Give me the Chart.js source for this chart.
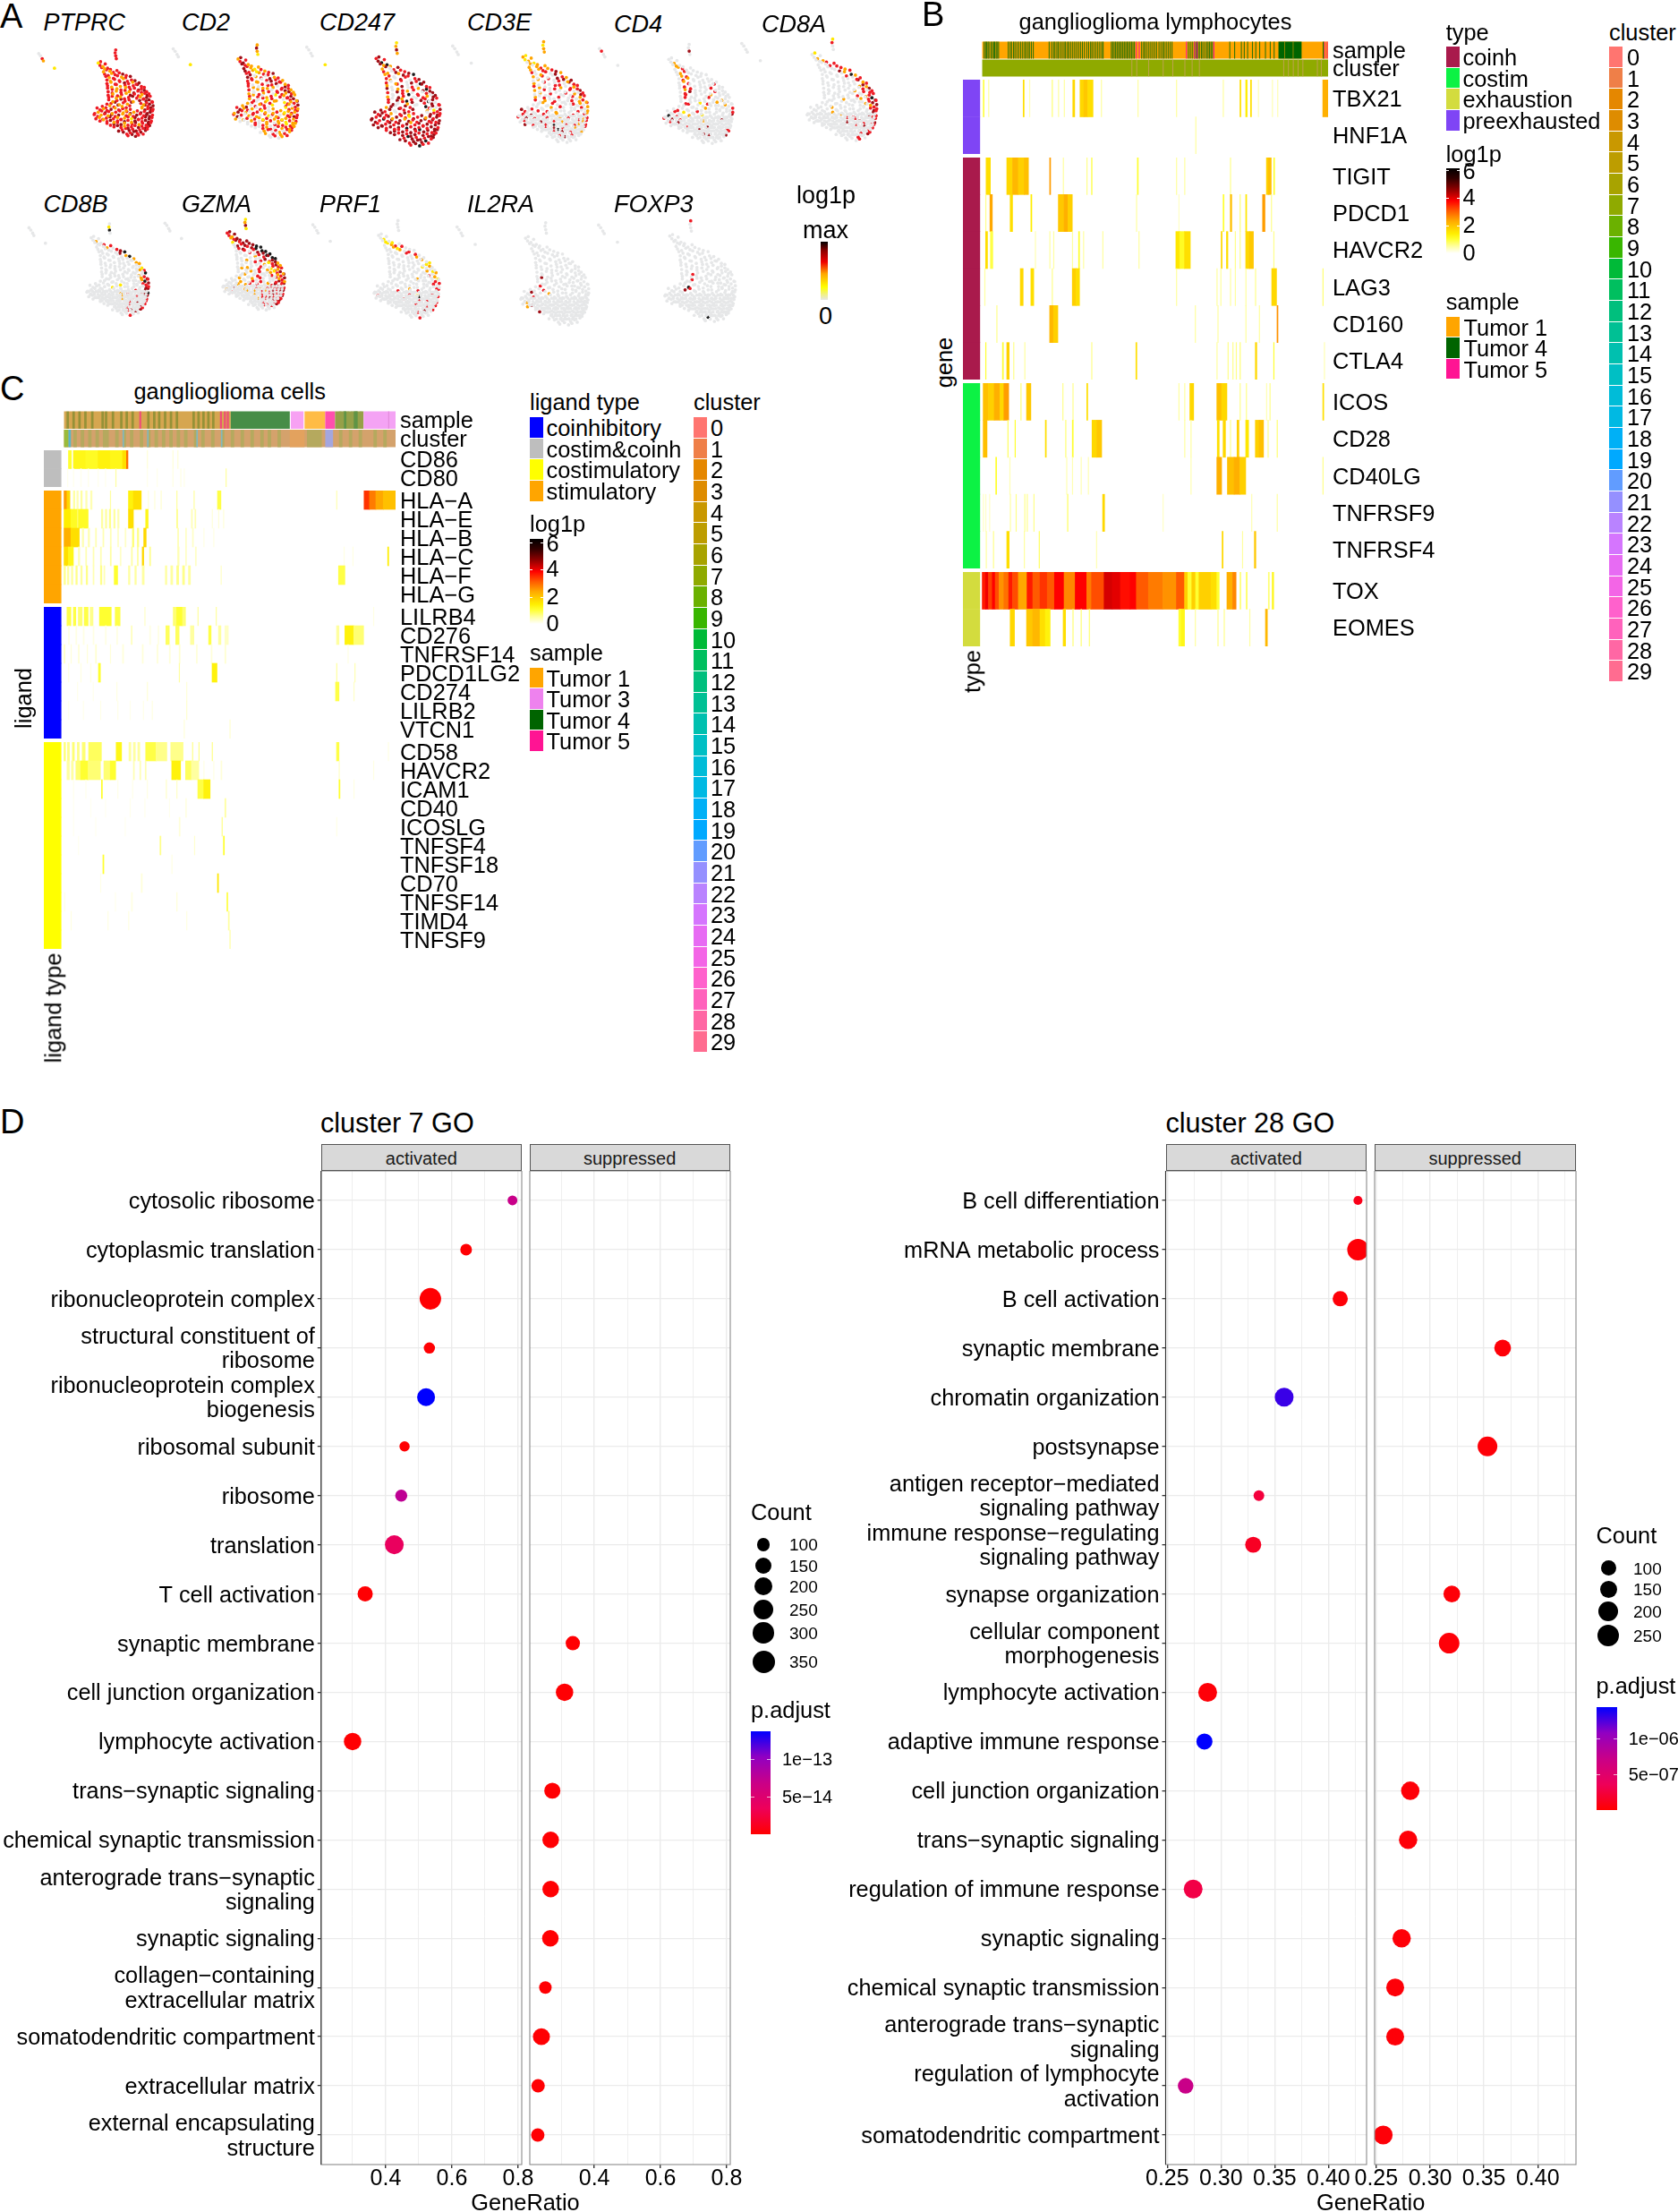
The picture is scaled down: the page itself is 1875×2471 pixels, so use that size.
<!DOCTYPE html>
<html><head><meta charset="utf-8">
<script src="https://cdn.jsdelivr.net/npm/chart.js@4"></script>
<style>
html,body{margin:0;padding:0;background:#fff}
#page{position:relative;width:1875px;height:2471px;overflow:hidden;font-family:"Liberation Sans",Arial,sans-serif;color:#000}
#page canvas{position:absolute}
.t{position:absolute;white-space:nowrap;line-height:1}
.b{position:absolute}
</style></head><body><div id="page"></div>
<script>
// ---------- PANEL A: shared UMAP cell positions (rows of [v,[u...]]) ----------
const umapSpike=[[37,117],[36,113],[37,109],[38,105]];
const umapStrip=[[-95,112],[-92,109],[-89,105],[-87,102],[-68,92]];
const umapRows=[
[100,[7,11]],[96,[10,15,19]],[92,[13,18,23,28]],[88,[16,21,27,33,39]],[84,[18,24,30,36,43,49,55]],
[80,[20,26,33,40,47,54,62]],[76,[22,28,35,43,50,57,64,70]],[72,[22,29,36,44,52,59,66,72,77]],
[68,[23,30,38,45,53,60,67,74,81]],[64,[23,31,39,46,54,62,69,76,81,86]],[60,[24,31,38,46,53,60,68,75,81,86,90]],
[56,[24,32,40,47,55,62,69,76,82,87,91,94]],[52,[25,31,38,45,52,59,66,73,79,85,90,96]],
[48,[25,32,39,46,53,60,67,78,84,89,94,99]],[44,[22,29,36,43,50,57,64,80,85,90,95,100]],
[40,[14,20,27,34,41,48,55,61,82,87,92,97,101]],[36,[5,10,16,22,29,36,42,49,55,62,82,87,92,97,101]],
[32,[1,7,13,19,25,31,37,44,50,56,62,68,74,80,86,91,96,100]],[28,[0,6,12,18,24,30,36,42,49,55,61,67,73,79,85,90,95,100]],
[24,[3,9,15,21,27,33,40,46,52,58,64,70,76,82,88,94,99]],[20,[10,16,22,28,34,40,46,52,58,64,70,76,82,88,93,98]],
[16,[22,28,34,40,46,52,58,65,71,77,83,89,93,97]],[12,[34,40,46,52,58,64,70,76,82,88,92,95]],
[8,[42,48,54,60,66,72,78,84,88,91]],[4,[50,56,62,68,74,80,84]],[0,[58,65,71,76]]];
// small vertical displacement of each cell within its row, read as 0..4
const umapRowShift=["13","204","3120","14203","2031420","3104213","20314021","130421302","204130241","3120413024","20314203142","130241302413","241302413024","302413024130","124031420314","2031420314203","413024130241302","024130241302413024","302413024130241302","13024130241302413","2413024130241302","30241302413024","241302413024","0241302413","3024130","2413"];
// extra unexpressed cells that fill the lower part of the map
const umapFill=[[3,30],[9,30],[15,30],[21,30],[27,30],[33,30],[39,30],[46,30],[52,30],[58,30],[64,30],[70,30],[76,30],[82,30],[88,30],[93,30],[98,30],[6,26],[12,26],[18,26],[24,26],[30,26],[37,26],[43,26],[49,26],[55,26],[61,26],[67,26],[73,26],[79,26],[85,26],[91,26],[97,26],[13,22],[19,22],[25,22],[31,22],[37,22],[43,22],[49,22],[55,22],[61,22],[67,22],[73,22],[79,22],[85,22],[91,22],[96,22],[25,18],[31,18],[37,18],[43,18],[49,18],[55,18],[61,18],[68,18],[74,18],[80,18],[86,18],[91,18],[95,18],[37,14],[43,14],[49,14],[55,14],[61,14],[67,14],[73,14],[79,14],[85,14],[90,14],[45,10],[51,10],[57,10],[63,10],[69,10],[75,10],[81,10],[86,10],[53,6],[59,6],[65,6],[71,6],[77,6],[82,6],[72,48],[69,44],[76,44],[66,40],[77,40],[67,36],[77,36]];
// expression level per cell (0 none .. 5 max); first two entries are spike and strip
const PTPRC=["3333","00321","13","323","3233","23233","3323343","3233234","32332334","323343234","323233343","3323233433","33233243343","323324332343","332233432343","323433243443","334232432343","3323423324344","332342332324343","323432332342343443","332324342323433443","32334323231433443","3234233432433443","33434233423343","343243343434","4334343343","4334343","3443"];
const CD2=["2421","00001","24","343","4322","43212","4321323","3402334","43230423","332034332","302303432","3202320343","30232033432","203230332432","323023132342","230313203342","230323213234","2403230132034","342320330213232","243203312023212323","343023203132023243","20230321302312323","0002303230231323","00303203231322","003230323232","0230320323","2030233","0302"];
const CD247=["1242","00001","34","453","4252","24034","3204334","2302435","32043034","302304354","203403043","4023032453","30432030344","204350332044","304253043043","340324035403","240343053403","4340433420134","434320342304343","434342433143424343","443534342433443434","43434343423434344","4434343534343443","34434343544344","434344343443","4354343434","4344453","3453"];
const CD3E=["2122","00000","21","122","0212","20232","2023234","3023042","20300432","020303424","203003043","3200320323","20303003034","020300302043","203003003023","302030030232","002030030203","0300020300302","430030302003002","030400300200030032","304030030020300023","03000400302000323","4030030500303203","00030453002003","000304030020","0003003000","0004000","0000"];
const CD4=["0040","03000","00","020","0200","02300","0230000","0230000","03200000","023000000","030000030","0230003000","03400003000","030000200000","030000300200","030010020000","003000300200","0300000200003","003010030000003","050300200100000004","304030000000004000","03040000020000000","0000300004000000","00000400000030","000040000003","0000400004","0000000","0000"];
const CD8A=["1300","00000","01","020","0023","00033","0000332","0000423","00000352","000000033","000000042","0000000243","00000000324","000000203033","000000030233","000020020354","000000002343","0000000000234","000002000000343","000000200000000043","000000002003000433","00000000030340003","0000000040003034","00000000304003","000000000303","0000003043","0000300","0003"];
const CD8B=["0150","00000","00","020","0003","00023","0000034","0000045","00000025","000000002","000000002","0000000002","00000000001","000000000203","000000000205","000000000234","000000000253","0000001000334","000000100000043","000000000000030044","000000000203000345","00000000020003004","0000000020040003","00000000304003","000000300403","0000340043","0003040","0030"];
const GZMA=["1241","00000","34","324","2344","14344","0434445","0343455","00303455","000303455","000020345","0020034345","00003021342","002003003432","020003021323","000203021342","002003030234","0020020303234","000020030303432","000020230300234334","020400200320343443","00300020203234344","0000000203034343","00000023343434","000000304343","0000330343","0003030","0000"];
const PRF1=["0000","00000","00","010","0101","01230","0021300","0002030","00003030","000000200","000000020","0000000011","00000001020","000000002010","000000000302","000000200021","000000000030","0000000000303","000000002000030","000000300003000003","030000000301000300","00000003000500003","0000000000303000","00000003000003","000000003003","0000004003","0003000","0030"];
const IL2RA=["0000","00000","","","","","","","","","","","","","040","","030","0003","0040002","0003","","02","24","04","","","",""];
const FOXP3=["3000","00000","","","","","","","","","","","","0030","","003","","0005","000043","","","","","","","","00500",""];
const umapLevelColors=["#E6E7E8","#FFE800","#FFA500","#EE1C25","#A01018","#1A1A1A"];

// ---------- PANEL B: stripes [firstCell,lastCell,log1p] ----------
const TBX21=[[127,129,.9],[138,139,.5],[210,212,1.6],[223,224,.4],[270,271,.7],[283,284,.5],[295,296,.5],[313,317,1.7],[328,336,1.7],[336,344,1.9],[344,355,1.6],[372,373,.5],[448,449,.5],[528,529,.5],[625,626,.5],[660,662,1.6],[672,675,1.4],[682,684,1.6],[698,699,.4],[727,728,.4],[738,739,.4],[832,843,2.2]];
const HNF1A=[[568,569,.5]];
const TIGIT=[[133,142,1.6],[176,188,1.7],[188,200,2.1],[200,212,1.8],[212,221,2],[265,267,2.4],[293,294,.5],[342,343,.6],[352,353,1],[447,449,1],[528,529,.5],[545,546,.5],[640,641,.6],[715,719,1.8],[719,725,2],[730,732,1]];
const PDCD1=[[132,133,.6],[141,146,2.3],[183,188,1.6],[226,228,1.4],[283,295,1.9],[295,303,2.2],[303,312,1.8],[445,446,.5],[533,534,.3],[625,627,1],[640,643,2],[660,661,.7],[672,674,1.5],[707,712,2.4],[725,726,.6]];
const HAVCR2=[[132,136,1.6],[142,147,.9],[235,236,.4],[265,266,.5],[273,274,.5],[312,313,.5],[325,327,1],[335,336,.5],[375,376,.5],[450,451,.5],[527,535,1.5],[535,545,1.1],[545,557,1.6],[621,623,1.7],[632,635,1.6],[650,651,.6],[660,661,.6],[672,680,1.7],[680,688,1.9],[730,731,.6]];
const LAG3=[[130,131,.5],[204,210,1.7],[226,232,1.6],[270,271,.6],[312,320,1.8],[320,327,1.6],[528,529,.5],[612,613,.5],[620,621,.5],[640,641,.5],[650,651,.5],[672,673,.5],[692,693,.6],[726,736,1.7],[832,833,.7]];
const CD160=[[155,156,.6],[265,273,2.1],[273,282,1.8],[567,568,.5],[614,615,.5],[672,673,.5],[700,701,.5],[737,739,2.5]];
const CTLA4=[[132,133,1],[167,169,1],[176,181,1.8],[190,191,.6],[213,214,.5],[352,353,.6],[444,446,1.6],[612,613,.5],[635,636,.6],[645,646,.6],[652,653,.6],[660,661,.7],[692,695,1.7],[730,731,1],[835,836,.4]];
const ICOS=[[127,138,2],[138,150,1.8],[150,162,2.2],[162,170,1.7],[170,180,2.4],[205,206,.7],[217,226,1.9],[292,293,.6],[313,314,.6],[342,344,1.6],[533,534,.5],[545,546,.5],[556,564,1.7],[612,622,2],[622,633,1.7],[660,661,.6],[673,674,.6],[715,716,.4],[722,723,.6],[832,834,1.6]];
const CD28=[[127,135,2],[178,179,.8],[193,194,1],[256,258,1.6],[298,299,.7],[312,314,1],[353,363,1.7],[363,373,1.9],[545,546,.5],[558,559,.5],[613,617,1.6],[625,630,1.7],[640,641,.6],[654,658,1.8],[672,678,1.5],[692,700,1.8],[700,709,2],[718,719,.6],[737,738,.7]];
const CD40LG=[[153,155,1],[182,183,.4],[300,301,.4],[312,313,.4],[330,331,.4],[345,346,.4],[558,559,.4],[612,622,2.2],[634,648,2],[648,660,2.2],[660,672,1.8],[832,833,.6]];
const TNFRSF9=[[127,128,.3],[132,133,.3],[140,141,.3],[183,184,.5],[195,196,.6],[213,214,.6],[218,219,.6],[232,233,.6],[302,303,.8],[375,379,1.7],[500,501,.3],[684,685,.4],[737,738,.5]];
const TNFRSF4=[[133,134,.5],[148,149,.6],[176,181,1.6],[212,213,.5],[243,244,.8],[362,363,.4],[623,625,1.7],[665,666,.5],[690,693,1.9]];
const TOX=[[125,132,3.5],[132,138,3.8],[138,146,3.2],[146,152,3.7],[152,160,3.1],[160,170,2.5],[170,180,2.8],[180,188,3.5],[188,200,3.1],[200,218,2.3],[218,230,3.5],[230,245,3],[245,260,3.3],[260,275,3],[275,295,3.7],[295,318,2.6],[318,342,3.7],[342,352,2.7],[352,378,3.1],[378,395,4],[395,412,3.9],[412,432,3.6],[432,445,3.7],[445,470,3],[470,500,2.7],[500,528,2.5],[528,545,3],[545,552,1.8],[552,560,1],[560,568,1.8],[568,575,1],[575,600,1.8],[600,612,1.6],[612,617,1],[633,645,2.2],[645,652,2.6],[660,662,.7],[673,675,.8],[719,721,.7],[727,730,1.2]];
const EOMES=[[183,192,1.7],[217,230,1.9],[230,245,2.1],[245,256,1.6],[256,266,1.3],[293,298,1.6],[313,314,.7],[330,331,.7],[347,348,.7],[533,538,1],[538,545,1.2],[567,568,.5],[614,615,.6],[627,628,.6],[680,681,.5],[713,717,2.1]];
const sampleB_green=[128,131,133,136,138,142,145,148,150,153,155,158,178,182,185,189,192,196,200,204,208,212,215,219,222,226,230,263,268,272,275,279,282,286,290,294,297,301,304,308,312,316,320,324,328,332,336,341,345,349,352,356,360,364,368,372,375,392,395,398,401,404,407,410,413,416,419,422,425,428,431,434,437,440,455,459,462,466,470,474,478,482,486,491,495,499,502,506,510,514,518,552,556,560,564,568,572,575,579,582,586,590,593,596,599,602,638,648,662,668,675,685,692,700,712,722,730];
const sampleB_pink=[444,450,548,565,570,605,835,840];
const clusterB_tan=[435,445,470,500,520,545,560,575,750,760,770,780,790,820,828];

// ---------- PANEL C: stripes [firstCell,lastCell,log1p] ----------
const CD86=[[140,146,1],[150,175,1.2],[175,200,1.1],[200,225,1.3],[225,250,1.2],[250,258,1.6],[258,261,2.8],[300,301,.2],[352,353,.2],[362,363,.2]];
const CD80=[[138,139,.1],[150,151,.1],[165,166,.1],[180,181,.12],[200,201,.1],[215,216,.1],[236,237,.5],[300,301,.1],[320,321,.1],[352,353,.15],[368,369,.15],[375,376,.12],[460,461,.5]];
const HLA_A=[[131,137,2.4],[137,143,1.7],[150,153,.5],[157,160,.4],[165,168,.5],[175,178,.4],[185,188,.4],[225,226,.5],[262,272,1.3],[272,288,1.6],[302,303,.2],[315,316,.2],[328,329,.25],[360,361,.5],[395,396,.5],[443,450,.9],[685,686,.4],[741,752,3.3],[752,765,2.7],[765,780,2.3],[780,805,2]];
const HLA_E=[[131,145,1.4],[145,158,1.1],[160,180,1.1],[207,210,.5],[215,218,.5],[223,226,.6],[232,235,.5],[240,243,.4],[262,272,1.6],[297,302,1.2],[360,362,.6],[390,392,.4],[397,399,.4],[432,433,.2],[445,446,.2],[455,456,.2]];
const HLA_B=[[131,145,2.2],[145,162,1.6],[168,171,.4],[180,183,.4],[195,197,.4],[210,212,.4],[225,227,.4],[240,242,.3],[255,257,.3],[270,273,.7],[280,283,.6],[293,298,1.7],[362,364,.4],[378,380,.3],[392,394,.3],[415,416,.15],[435,436,.15]];
const HLA_C=[[131,140,1.6],[140,150,1.2],[160,163,.4],[175,177,.4],[190,192,.4],[205,207,.4],[225,227,.5],[245,247,.3],[268,270,.5],[280,282,.5],[290,293,1.7],[305,307,.6],[362,365,.4],[378,380,.3],[398,400,.3],[700,701,.15],[718,719,.15],[789,791,1.4]];
const HLA_F=[[131,134,.6],[138,141,.5],[146,149,.5],[155,158,.6],[165,168,.5],[176,179,.6],[190,192,.4],[205,208,.6],[212,214,.4],[233,240,1],[262,265,.5],[275,278,.5],[290,294,.5],[337,340,.5],[348,352,.5],[360,364,.6],[372,376,.6],[384,388,.5],[450,451,.3],[689,702,.9]];
const HLA_G=[];
const LILRB4=[[137,145,.9],[150,155,.9],[160,168,.7],[172,180,.9],[184,190,.6],[203,227,1],[235,245,.9],[295,296,.3],[353,360,.7],[360,372,1],[372,378,.7],[403,404,.5],[440,441,.5],[760,761,.15]];
const CD276=[[140,142,.15],[155,157,.15],[170,172,.15],[190,192,.15],[215,217,.15],[238,240,.15],[268,269,.5],[305,307,.15],[322,324,.15],[338,345,.8],[358,365,.8],[388,395,.5],[425,430,.9],[445,450,.5],[458,465,.3],[685,690,.5],[702,720,1.3],[720,740,.7]];
const TNFRSF14=[[131,133,.3],[145,146,.2],[160,162,.2],[178,179,.2],[195,197,.25],[225,226,.2],[250,252,.2],[290,292,.2],[320,322,.2],[345,347,.2],[365,367,.25],[400,402,.2],[430,432,.2],[458,460,.25],[708,709,.15]];
const PDCD1LG2=[[140,141,.15],[165,166,.15],[185,186,.15],[201,205,1],[365,366,.5],[432,442,1.3],[685,686,.5],[722,723,.4]];
const CD274=[[158,159,.1],[190,191,.1],[238,239,.15],[300,301,.2],[380,381,.2],[683,690,.9],[720,721,.3]];
const LILRB2=[[140,141,.1],[170,171,.1],[205,206,.12],[240,241,.12],[265,266,.1],[292,293,.12],[310,311,.15],[380,381,.25]];
const VTCN1=[[375,376,.2],[468,469,.25]];
const CD58=[[131,134,.7],[138,142,.6],[148,152,.7],[158,162,.6],[168,174,.7],[181,207,.8],[237,248,1.2],[263,267,.5],[272,276,.5],[281,285,.5],[297,318,.9],[318,340,.6],[348,373,.6],[392,393,.6],[405,406,.6],[432,433,.6],[685,690,.9],[790,791,.15]];
const HAVCR2_C=[[137,142,.5],[146,150,.5],[155,165,.7],[165,180,1],[180,205,.7],[212,225,.7],[225,236,1],[272,274,.4],[285,287,.4],[296,298,.4],[350,368,1.3],[378,390,.8],[390,405,.5],[415,416,.15],[435,436,.15],[450,452,.2],[690,691,.3],[760,761,.15]];
const ICAM1=[[150,151,.1],[175,176,.1],[207,209,1],[240,241,.12],[270,271,.12],[300,301,.15],[338,340,.2],[360,361,.3],[403,415,.9],[415,428,1.3],[690,692,1],[720,721,.15]];
const CD40=[[150,151,.08],[185,186,.08],[215,216,.08],[265,266,.1],[295,296,.1],[345,346,.1],[378,380,.15],[458,460,.5]];
const ICOSLG=[[150,151,.08],[195,196,.08],[255,256,.08],[365,367,.2],[452,453,.6],[685,686,.12]];
const TNFSF4=[[160,161,.08],[326,328,.6],[396,397,.25],[455,457,1]];
const TNFSF18=[[210,212,1],[350,351,.15]];
const CD70=[[205,206,.12],[288,290,.2],[443,445,1.5]];
const TNFSF14=[[132,133,.12],[235,236,.1],[268,270,.15],[360,361,.2],[462,464,.9]];
const TIMD4=[[145,146,.15],[220,221,.15],[262,263,.15],[380,381,.15],[465,467,.5]];
const TNFSF9=[[468,469,.5]];
const sampleC_green=[136,148,160,172,186,207,214,228,245,256,268,300,312,322,334,346,358,392,402,412,422,432,690,698,706,714,722,732];
const sampleC_pink=[284,448,456,462];
const clusterC_olive=[150,165,180,195,210,235,250,265,285,300,315,330,345,360,375,395,410,430,450,470,490,510,530,545,565,625,690,710,730,760,780];
const clusterC_blue=[250,300,400,450];

// ---------- colours for legends ----------
const clusterColors=["#FF7570","#EF7F48","#E58700","#DE8C00","#C99800","#BD9D00","#A8A300","#8FAA00","#6BB100","#39B600","#00BA38","#00BF5F","#00BF7D","#00C094","#00C0AF","#00BFC4","#00BCD8","#00B9E3","#00B0F6","#00A9FF","#619CFF","#9590FF","#B983FF","#D575FE","#E76BF3","#F365E6","#FF61CC","#FF62BC","#FF67A4","#FF6C90"];
const typeColors=["#A91A4C","#0CF244","#D3DC3E","#7F45F5"];
const typeNames=["coinh","costim","exhaustion","preexhausted"];
const ligandNames=["coinhibitory","costim&coinh","costimulatory","stimulatory"];
const ligandColors=["#0000FF","#BEBEBE","#FFFF00","#FFA500"];
const heatStops=[[0,"#FFFFFF"],[.5,"#FFFFA0"],[1,"#FFFF30"],[1.4,"#FFEE00"],[1.8,"#FFD000"],[2.3,"#FFA800"],[3,"#FF5A00"],[3.7,"#FF0000"],[4.5,"#900000"],[5.3,"#300000"],[6,"#000000"]];
const padjStops=[[0,"#FF0000"],[.25,"#EE0059"],[.5,"#C90088"],[.75,"#9100C2"],[1,"#0000FF"]];

// ---------- PANEL D data ----------
const c7Terms=["cytosolic ribosome","cytoplasmic translation","ribonucleoprotein complex",["structural constituent of","ribosome"],["ribonucleoprotein complex","biogenesis"],"ribosomal subunit","ribosome","translation","T cell activation","synaptic membrane","cell junction organization","lymphocyte activation","trans−synaptic signaling","chemical synaptic transmission",["anterograde trans−synaptic","signaling"],"synaptic signaling",["collagen−containing","extracellular matrix"],"somatodendritic compartment","extracellular matrix",["external encapsulating","structure"]];
const c7Ratio=[.783,.643,.535,.532,.522,.457,.447,.426,.338,.335,.310,.300,.273,.268,.268,.267,.252,.240,.230,.229];
const c7Count=[50,77,320,70,212,56,84,237,146,126,200,200,166,177,177,177,92,188,108,108];
const c7Padj=[6.9e-14,1e-15,1e-15,1e-15,1.37e-13,1e-15,7.5e-14,3.8e-14,1e-15,1e-15,1e-15,1e-15,1e-15,1e-15,1e-15,1e-15,1e-15,1e-15,1e-15,1e-15];
const c7Side=[0,0,0,0,0,0,0,0,0,1,1,0,1,1,1,1,1,1,1,1];
const c28Terms=["B cell differentiation","mRNA metabolic process","B cell activation","synaptic membrane","chromatin organization","postsynapse",["antigen receptor−mediated","signaling pathway"],["immune response−regulating","signaling pathway"],"synapse organization",["cellular component","morphogenesis"],"lymphocyte activation","adaptive immune response","cell junction organization","trans−synaptic signaling","regulation of immune response","synaptic signaling","chemical synaptic transmission",["anterograde trans−synaptic","signaling"],["regulation of lymphocyte","activation"],"somatodendritic compartment"];
const c28Ratio=[.4275,.4275,.411,.3674,.3588,.3533,.3353,.330,.3202,.3177,.2876,.2846,.2816,.2796,.2741,.2736,.2676,.2676,.2671,.2565];
const c28Count=[18,250,100,130,178,201,34,117,130,225,178,117,167,167,178,167,156,156,108,178];
const c28Padj=[1e-7,3e-8,3e-8,3e-8,1.28e-6,3e-8,2.4e-7,1.4e-7,3e-8,3e-8,3e-8,1.42e-6,3e-8,3e-8,2.8e-7,3e-8,3e-8,3e-8,7.1e-7,3e-8];
const c28Side=[0,0,0,1,0,1,0,0,1,1,0,0,1,1,0,1,1,1,0,1];
const c7Ticks=[.3,.4,.5,.6,.7,.8];
const c28Ticks=[.25,.275,.3,.325,.35,.375,.4,.425];

// ---------- helpers ----------
const page=document.getElementById('page');
const FS=25.4;
Chart.defaults.font.family='"Liberation Sans",Arial,sans-serif';
Chart.defaults.color='#000';
function txt(x,y,s,o={}){const d=document.createElement('div');d.className='t';d.textContent=s;
 const size=o.size||FS;let tr=o.anchor==='mid'?'translate(-50%,-50%)':o.anchor==='end'?'translate(-100%,-50%)':'translateY(-50%)';
 if(o.rot)tr='translate(-50%,-50%) rotate(-90deg)';
 d.style.cssText=`left:${x}px;top:${y}px;font-size:${size}px;transform:${tr};color:${o.color||'#000'};${o.italic?'font-style:italic;':''}`;page.appendChild(d);}
function box(x,y,w,h,css){const d=document.createElement('div');d.className='b';d.style.cssText=`left:${x}px;top:${y}px;width:${w}px;height:${h}px;${css}`;page.appendChild(d);}
function hex(c){return [1,3,5].map(i=>parseInt(c.substr(i,2),16));}
function interp(stops,v){if(v<=stops[0][0])return stops[0][1];for(let i=1;i<stops.length;i++){if(v<=stops[i][0]){const f=(v-stops[i-1][0])/(stops[i][0]-stops[i-1][0]);const a=hex(stops[i-1][1]),b=hex(stops[i][1]);return `rgb(${a.map((q,k)=>Math.round(q+(b[k]-q)*f)).join(',')})`;}}return stops[stops.length-1][1];}
function canvas(x,y,w,h){const c=document.createElement('canvas');w=Math.round(w);h=Math.round(h);c.width=w;c.height=h;c.style.left=x+'px';c.style.top=y+'px';c.style.width=w+'px';c.style.height=h+'px';page.appendChild(c);return c;}
const base={responsive:false,animation:false,devicePixelRatio:1,events:[],plugins:{legend:{display:false},tooltip:{enabled:false}}};

// ---------- panel A ----------
function umapPoints(levels,fill){const out=[[],[],[],[],[],[]];
 if(fill)umapFill.forEach(p=>out[0].push({x:p[0],y:p[1]}));
 umapSpike.forEach((p,i)=>out[+(levels[0][i]||0)].push({x:p[0],y:p[1]}));
 umapStrip.forEach((p,i)=>out[+(levels[1][i]||0)].push({x:p[0],y:p[1]}));
 umapRows.forEach((r,k)=>r[1].forEach((u,i)=>out[+(levels[k+2][i]||0)].push({x:u,y:r[0]+((+umapRowShift[k][i])-2)*.9})));
 return out;}
function umap(name,levels,L,R,T,B,tx,ty,fill){
 const w=R-L,h=B-T,cx=Math.round(L-w),cw=Math.round(w*2.04),cy=Math.round(B-h*1.24),ch=Math.round(h*1.27);
 const pts=umapPoints(levels,fill);
 new Chart(canvas(cx,cy,cw,ch),{type:'scatter',data:{datasets:pts.map((d,i)=>({data:d,backgroundColor:umapLevelColors[i],pointRadius:1.85,borderWidth:0}))},
  options:{...base,layout:{padding:0,autoPadding:false},scales:{x:{type:'linear',display:false,min:-100,max:104},y:{type:'linear',display:false,min:-3,max:124}}}});
 txt(tx,ty,name,{size:27,italic:true});
}
umap('PTPRC',PTPRC,105,170,70,152,48.5,25,false);
umap('CD2',CD2,261,332,65,153,203,25,false);
umap('CD247',CD247,415,491,65,163,357,25,false);
umap('CD3E',CD3E,579,656,63,158,522,25,true);
umap('CD4',CD4,742,818,66,160,686,27,true);
umap('CD8A',CD8A,902,979,60,156,851,27,true);
umap('CD8B',CD8B,97,165,265,352,48.5,228,true);
umap('GZMA',GZMA,249,317,260,346,203,228,true);
umap('PRF1',PRF1,418,490,262,354,357,228,true);
umap('IL2RA',IL2RA,582,657,265,362,522,228,true);
umap('FOXP3',FOXP3,743,821,263,358,686,228,true);
txt(890,218,'log1p',{size:27});txt(897,257,'max',{size:27});txt(915,353,'0',{size:27});
box(917,270,8,65,'background:linear-gradient(to top,#E6E6E6 0%,#FFFF00 22%,#FFA500 45%,#F00000 65%,#8B0000 85%,#000 100%)');

// ---------- heat maps ----------
function heat(labels,rows,sideColor,min,max,left,right,labelW,top,bottom,pct){
 const data=[];
 labels.forEach((lab,i)=>{ if(sideColor)data.push({x:sideColor[0],y:lab,c:sideColor[1]});
   rows[i].forEach(s=>data.push({x:[s[0],s[1]],y:lab,c:s[2]})); });
 new Chart(canvas(left,top-5,right-left+labelW,bottom-top+10),{type:'bar',
  data:{labels,datasets:[{data,backgroundColor:c=>c.raw?c.raw.c:'#fff',borderWidth:0,barPercentage:pct||1,categoryPercentage:1}]},
  options:{...base,indexAxis:'y',layout:{padding:{top:5,bottom:5,left:0,right:0},autoPadding:false},scales:{
   x:{type:'linear',display:false,min,max},
   y:{type:'category',position:'right',grid:{display:false,drawTicks:false},border:{display:false},
      ticks:{autoSkip:false,padding:5,labelOffset:2,font:{size:FS,lineHeight:1},color:'#000'},
      afterFit(s){s.width=labelW;s.paddingTop=0;s.paddingBottom=0;}}}}});
}
function hm(a){return a.map(s=>[s[0],s[1],interp(heatStops,s[2])]);}
// B
const bMin=85,bMax=843,bL=1076,bR=1484,bLab=230;
const bSample=[[125,843,'#FFA500'],...sampleB_green.map(c=>[c,c+2,'#2E7408']),...sampleB_pink.map(c=>[c,c+2,'#FF1493']),[740,788,'#006400'],[752,753,'#FFA500'],[770,771,'#FFA500'],[832,834,'#006400']];
const bCluster=[[125,843,'#8FAA00'],...clusterB_tan.map(c=>[c,c+1.5,'#C9A060'])];
heat(['sample','cluster'],[bSample,bCluster],null,bMin,bMax,bL,bR,bLab,46,86,.95);
heat(['TBX21','HNF1A'],[hm(TBX21),hm(HNF1A)],[[85,120],typeColors[3]],bMin,bMax,bL,bR,bLab,89,172);
heat(['TIGIT','PDCD1','HAVCR2','LAG3','CD160','CTLA4'],[TIGIT,PDCD1,HAVCR2,LAG3,CD160,CTLA4].map(hm),[[85,120],typeColors[0]],bMin,bMax,bL,bR,bLab,176,424);
heat(['ICOS','CD28','CD40LG','TNFRSF9','TNFRSF4'],[ICOS,CD28,CD40LG,TNFRSF9,TNFRSF4].map(hm),[[85,120],typeColors[1]],bMin,bMax,bL,bR,bLab,428,635);
heat(['TOX','EOMES'],[TOX,EOMES].map(hm),[[85,120],typeColors[2]],bMin,bMax,bL,bR,bLab,639,722);
// C
const cMin=90,cMax=805,cL=49,cR=442,cLab=150;
const a=(c,o)=>{const h=hex(c);return `rgba(${h[0]},${h[1]},${h[2]},${o})`};
const cSample=[[131,470,'#D6A650'],...sampleC_green.map(c=>[c,c+5,a('#006400',.3)]),...sampleC_pink.map(c=>[c,c+4,a('#FF1493',.6)]),[470,590,'#478D47'],[592,618,'#F7A1F3'],[620,662,'#FFBC45'],[662,682,'#FF4FAE'],[682,740,'#96A048'],[700,705,'#5F9445'],[720,728,'#5F9445'],[740,805,'#F4A3F4'],[790,792,'#E08AD8']];
const cCluster=[[131,805,'#D4A26C'],[131,140,'#9ABB3A'],[140,145,'#58B8C8'],...clusterC_olive.map(c=>[c,c+(c==625?30:c==210?12:7),'#B5A95E']),...clusterC_blue.map(c=>[c,c+3,'#80B8C0']),[590,620,'#E3A25E'],[662,678,'#A4A6DE']];
heat(['sample','cluster'],[cSample,cCluster],null,cMin,cMax,cL,cR,cLab,459,500,.95);
heat(['CD86','CD80'],[CD86,CD80].map(hm),[[90,125],ligandColors[1]],cMin,cMax,cL,cR,cLab,503,544);
heat(['HLA−A','HLA−E','HLA−B','HLA−C','HLA−F','HLA−G'],[HLA_A,HLA_E,HLA_B,HLA_C,HLA_F,HLA_G].map(hm),[[90,125],ligandColors[3]],cMin,cMax,cL,cR,cLab,548,674);
heat(['LILRB4','CD276','TNFRSF14','PDCD1LG2','CD274','LILRB2','VTCN1'],[LILRB4,CD276,TNFRSF14,PDCD1LG2,CD274,LILRB2,VTCN1].map(hm),[[90,125],ligandColors[0]],cMin,cMax,cL,cR,cLab,678,825);
heat(['CD58','HAVCR2','ICAM1','CD40','ICOSLG','TNFSF4','TNFSF18','CD70','TNFSF14','TIMD4','TNFSF9'],[CD58,HAVCR2_C,ICAM1,CD40,ICOSLG,TNFSF4,TNFSF18,CD70,TNFSF14,TIMD4,TNFSF9].map(hm),[[90,125],ligandColors[2]],cMin,cMax,cL,cR,cLab,829,1060);

// legends B + C
function swatches(x,y0,step,w,names,colors,tx,h){names.forEach((n,i)=>{box(x,y0+i*step,w,(h||step)-1,`background:${colors[i]}`);txt(tx,y0+i*step+step/2+1,n);});}
const heatCss='linear-gradient(to top,'+heatStops.map(s=>`${s[1]} ${(s[0]/6*100).toFixed(1)}%`).join(',')+')';
function heatLegend(x,y6,y0,top,tx,w){box(x,top,w,y0-top,'background:'+heatCss);
 [[6,y6],[4,y6+(y0-y6)/3],[2,y6+(y0-y6)*2/3],[0,y0]].forEach(p=>{if(p[0]>0){box(x,p[1],3,1,'background:#fff');box(x+w-3,p[1],3,1,'background:#fff');}txt(tx,p[1]+(p[0]==6?2:0),String(p[0]));});}
const clusterIds=clusterColors.map((_,i)=>String(i));
txt(1291,25,'ganglioglioma lymphocytes',{anchor:'mid'});
txt(1615.7,37,'type');swatches(1615.7,52,23.67,15,typeNames,typeColors,1634.5);
txt(1615.7,173,'log1p');heatLegend(1615.7,190,283,188,1634.5,15);
txt(1615.7,338,'sample');swatches(1615.7,354,23.4,15,['Tumor 1','Tumor 4','Tumor 5'],['#FFA500','#006400','#FF1493'],1635.5);
txt(1798,37,'cluster');swatches(1798,52,23.67,15,clusterIds,clusterColors,1818);
txt(1056,405,'gene',{rot:true});txt(1086.6,750,'type',{rot:true});
txt(256.7,438,'ganglioglioma cells',{anchor:'mid'});
txt(592,450,'ligand type');swatches(592,466,23.67,15,ligandNames,ligandColors,610.5);
txt(592,586,'log1p');heatLegend(592,606,697,602,610.5,15);
txt(592,730,'sample');swatches(592,746,23.4,15,['Tumor 1','Tumor 3','Tumor 4','Tumor 5'],['#FFA500','#EE82EE','#006400','#FF1493'],610.5);
txt(775,450,'cluster');swatches(775,466,23.67,15,clusterIds,clusterColors,794);
txt(27,780,'ligand',{rot:true});txt(60,1126,'ligand type',{rot:true});
txt(0,18,'A',{size:38});txt(1030,16,'B',{size:38});txt(0,434,'C',{size:38});txt(0,1253,'D',{size:38});

// ---------- panel D ----------
const frame={id:'frame',afterDatasetsDraw(ch,_,o){const{left,right,top,bottom}=ch.chartArea,g=ch.ctx;g.save();g.strokeStyle='#8A8A8A';g.lineWidth=1.1;g.strokeRect(left,top,right-left,bottom-top);if(o.dark){g.strokeStyle='#333';g.beginPath();g.moveTo(left,top);g.lineTo(left,bottom);g.stroke();}g.restore();}};
function goPanel(terms,ratio,count,padj,side,which,ticks,fmt,xmin,xmax,left,right,labelW,sizeA,sizeB,pmax,major){
 const pts=[];ratio.forEach((r,i)=>{if(side[i]===which)pts.push({x:r,y:i,r:(sizeA+sizeB*Math.sqrt(count[i]))/2,c:interp(padjStops,padj[i]/pmax)});});
 const top=1308,bottom=2417.5,cx=Math.round(left-labelW);
 new Chart(canvas(cx,top,Math.round(right-cx)+32,bottom-top+42),{type:'bubble',plugins:[frame],
  data:{datasets:[{data:pts,backgroundColor:c=>c.raw?c.raw.c:'#f00',borderWidth:0,clip:0}]},
  options:{...base,layout:{padding:{left:0,top:0,right:32,bottom:0},autoPadding:false},plugins:{...base.plugins,frame:{dark:which===0}},scales:{
   x:{type:'linear',min:xmin,max:xmax,
      afterBuildTicks(s){s.ticks=ticks.map(v=>({value:v}));},
      afterFit(s){s.height=42;s.paddingLeft=0;s.paddingRight=0;},
      border:{display:false},
      grid:{color:'#EBEBEB',lineWidth:c=>major(c.tick.value)?1.4:.8,tickLength:4,tickColor:c=>major(c.tick.value)?'#333':'rgba(0,0,0,0)'},
      ticks:{autoSkip:false,maxRotation:0,minRotation:0,padding:0,font:{size:25,lineHeight:1},color:'#000',callback:v=>major(v)?fmt(v):''}},
   y:{type:'linear',reverse:true,min:-.6,max:19.6,
      afterBuildTicks(s){s.ticks=terms.map((_,i)=>({value:i}));},
      afterFit(s){s.width=labelW;s.paddingTop=0;s.paddingBottom=0;},
      border:{display:false},
      grid:{color:'#EBEBEB',lineWidth:1.3,tickLength:which===0?4:0,tickColor:'#333',drawTicks:which===0},
      ticks:{display:which===0,autoSkip:false,padding:3,labelOffset:2,font:{size:25.3,lineHeight:1.08},color:'#000',callback:v=>terms[v]}}}}});
}
const majC7=v=>Math.abs(v*10-Math.round(v*10))<.01&&Math.round(v*10)%2===0;
const majC28=v=>Math.abs(v*20-Math.round(v*20))<.01;
goPanel(c7Terms,c7Ratio,c7Count,c7Padj,c7Side,0,c7Ticks,v=>v.toFixed(1),.2049,.811,358.8,583,358.8,2.43,1.207,1.37e-13,majC7);
goPanel(c7Terms,c7Ratio,c7Count,c7Padj,c7Side,1,c7Ticks,v=>v.toFixed(1),.2049,.811,591.5,815.8,32,2.43,1.207,1.37e-13,majC7);
goPanel(c28Terms,c28Ratio,c28Count,c28Padj,c28Side,0,c28Ticks,v=>v.toFixed(2),.2485,.4355,1302.5,1527,372.5,5,1.2,1.42e-6,majC28);
goPanel(c28Terms,c28Ratio,c28Count,c28Padj,c28Side,1,c28Ticks,v=>v.toFixed(2),.2485,.4355,1535.8,1760.6,32,5,1.2,1.42e-6,majC28);
function strip(x0,x1,s){box(x0,1278,x1-x0,30,'background:#D9D9D9;border:1px solid #555;box-sizing:border-box;');txt((x0+x1)/2,1294,s,{size:20,anchor:'mid',color:'#1A1A1A'});}
strip(358.8,583,'activated');strip(591.5,815.8,'suppressed');strip(1302.5,1527,'activated');strip(1535.8,1760.6,'suppressed');
txt(358,1254,'cluster 7 GO',{size:30.6});txt(1302.5,1254,'cluster 28 GO',{size:30.6});
txt(587,2461,'GeneRatio',{anchor:'mid'});txt(1531.6,2461,'GeneRatio',{anchor:'mid'});
function dot(cx,cy,d){box(cx-d/2,cy-d/2,d,d,'background:#000;border-radius:50%');}
txt(839,1690,'Count');
[[100,1725.4,14.5],[150,1748.7,18],[200,1772,20],[250,1797.8,22],[300,1824,23.6],[350,1856,25]].forEach(r=>{dot(853,r[1],r[2]);txt(882,r[1],String(r[0]),{size:19});});
txt(839,1911,'p.adjust');
const padjCss='linear-gradient(to top,'+padjStops.map(s=>`${s[1]} ${s[0]*100}%`).join(',')+')';
box(839,1934.4,21.6,114.6,'background:'+padjCss);
[[1965,'1e−13'],[2007,'5e−14']].forEach(r=>{box(839,r[0],4,1,'background:rgba(255,255,255,.7)');box(856.6,r[0],4,1,'background:rgba(255,255,255,.7)');txt(874,r[0],r[1],{size:20});});
txt(1783.5,1716,'Count');
[[100,1751.5,17],[150,1775,19],[200,1799.8,22],[250,1827,24]].forEach(r=>{dot(1797.4,r[1],r[2]);txt(1825,r[1],String(r[0]),{size:19});});
txt(1783.5,1883.7,'p.adjust');
box(1783.5,1907,23,114.5,'background:'+padjCss);
[[1941.5,'1e−06'],[1982,'5e−07']].forEach(r=>{box(1783.5,r[0],4,1,'background:rgba(255,255,255,.7)');box(1802.5,r[0],4,1,'background:rgba(255,255,255,.7)');txt(1819.7,r[0],r[1],{size:20});});
</script></body></html>
